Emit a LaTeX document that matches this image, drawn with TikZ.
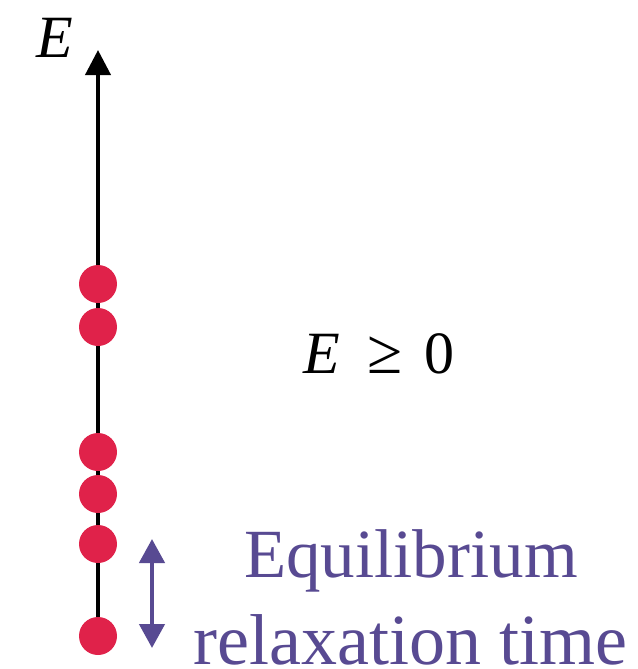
\documentclass[tikz,border=0pt]{standalone}
\usepackage{fontspec}
\setmainfont{Liberation Serif}
\usetikzlibrary{arrows.meta}
\definecolor{dotred}{RGB}{224,34,74}
\definecolor{lav}{RGB}{88,74,146}
\tikzset{
  dotnode/.style={circle,fill=dotred,minimum size=38pt,inner sep=0pt},
  axisline/.style={line width=4pt,-{Triangle[length=25pt,width=25pt]}},
  timearrow/.style={draw=lav,line width=4.5pt,{Triangle[length=24pt,width=25pt]}-{Triangle[length=24pt,width=25pt]}},
  bigtext/.style={inner sep=0pt,font=\fontsize{60}{72}\selectfont},
  lavtext/.style={inner sep=0pt,text=lav,font=\fontsize{69}{80}\selectfont}
}
\begin{document}
\begin{tikzpicture}[x=1pt,y=-1pt]
\useasboundingbox (0,0) rectangle (637,669);
\coordinate (top) at (98,50);
\coordinate (bot) at (98,636);
\draw[axisline] (bot) -- (top);
\node[dotnode] (d1) at (98,284) {};
\node[dotnode] (d2) at (98,327) {};
\node[dotnode] (d3) at (98,452) {};
\node[dotnode] (d4) at (98,494) {};
\node[dotnode] (d5) at (98,544) {};
\node[dotnode] (d6) at (98,636) {};
\coordinate (ta) at (152,648);
\coordinate (tb) at (152,539);
\draw[timearrow] (ta) -- (tb);
\node[bigtext,anchor=base west] (elabel) at (36,58) {\textit{E}};
\node[bigtext,anchor=base west] (cond) at (303,373) {\textit{E}\kern 28pt{\fontsize{64}{72}\selectfont ≥}\kern 22pt0};
\node[lavtext,anchor=base west] (eq) at (244,577) {Equilibrium};
\node[lavtext,anchor=base west,font=\fontsize{72}{80}\selectfont] (rt) at (193,664) {relaxation time};
\end{tikzpicture}
\end{document}
